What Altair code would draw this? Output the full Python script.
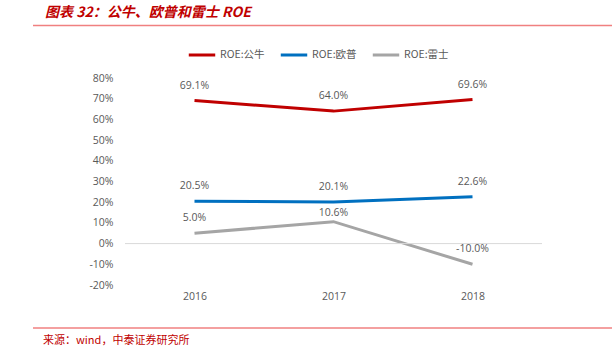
import altair as alt
import pandas as pd

years = ["2016", "2017", "2018"]
series_names = ["ROE:公牛", "ROE:欧普", "ROE:雷士"]
roe_gongniu = [0.691, 0.640, 0.696]
roe_oupu = [0.205, 0.201, 0.226]
roe_leishi = [0.050, 0.106, -0.100]
series_colors = ["#C00000", "#0070C0", "#A5A5A5"]
y_ticks = [-0.2, -0.1, 0.0, 0.1, 0.2, 0.3, 0.4, 0.5, 0.6, 0.7, 0.8]

title_text = "图表 32：公牛、欧普和雷士 ROE"
source_text = "来源：wind，中泰证券研究所"

rows = []
for name, vals in zip(series_names, [roe_gongniu, roe_oupu, roe_leishi]):
    for y, v in zip(years, vals):
        rows.append({"year": y, "series": name, "roe": v})
df = pd.DataFrame(rows)

W, H = 417, 207
PAD_L, PAD_T = 125, 78
LABEL_FONT = "Open Sans"
y_scale = alt.Scale(domain=[-0.2, 0.8], nice=False)
x_scale = alt.Scale(paddingInner=0, paddingOuter=0.5)

x_axis = alt.Axis(labelAngle=0, domain=False, ticks=False, labelPadding=6,
                  labelFontSize=10.5, labelColor="#595959", labelFont=LABEL_FONT)
y_axis = alt.Axis(values=y_ticks, format=".0%", domain=False, ticks=False, grid=False,
                  labelOverlap=False,
                  labelExpr="replace(datum.label, '\u2212', '-')",
                  labelPadding=12, labelFontSize=10.5, labelColor="#595959",
                  labelFont=LABEL_FONT)

x_enc = alt.X("year:N", sort=years, title=None, scale=x_scale, axis=x_axis)
y_enc = alt.Y("roe:Q", title=None, scale=y_scale, axis=y_axis)
color_enc = alt.Color("series:N",
                      scale=alt.Scale(domain=series_names, range=series_colors),
                      legend=alt.Legend(title=None, orient="none", legendX=62, legendY=-38,
                                        direction="horizontal", symbolType="stroke",
                                        symbolStrokeWidth=3, symbolSize=700,
                                        labelFontSize=10.5, labelColor="#595959",
                                        labelFont="Noto Sans CJK SC", columnPadding=9,
                                        labelOffset=3))

base = alt.Chart(df)

lines = base.mark_line(strokeWidth=3).encode(x=x_enc, y=y_enc, color=color_enc)

zero = base.transform_aggregate(z="min(roe)").transform_calculate(z="0").mark_rule(
    color="#D9D9D9", strokeWidth=1).encode(
    y=alt.Y("z:Q", title=None, scale=y_scale, axis=y_axis),
    x=alt.value(0), x2=alt.value(W))

special = "datum.series == 'ROE:雷士' && datum.year == '2017'"
label_base = base.transform_calculate(
    lbl="replace(format(datum.roe, '.1%'), '\u2212', '-')"
)
labels = label_base.transform_filter("!(" + special + ")").mark_text(
    baseline="middle", dy=-15, fontSize=10.5, color="#595959", font=LABEL_FONT
).encode(x=x_enc, y=y_enc, text=alt.Text("lbl:N"))
labels_special = label_base.transform_filter(special).mark_text(
    baseline="middle", dy=-9, fontSize=10.5, color="#595959", font=LABEL_FONT
).encode(x=x_enc, y=y_enc, text=alt.Text("lbl:N"))

title = alt.Chart(pd.DataFrame({"t": [title_text]})).mark_text(
    align="left", baseline="middle", fontSize=14, fontStyle="italic", fontWeight="bold",
    color="#C00000", font="Noto Sans CJK SC").encode(
    x=alt.value(45 - PAD_L), y=alt.value(13 - PAD_T), text="t:N")

top_rule = alt.Chart(pd.DataFrame({"r": [0]})).mark_rule(color="#F08080", strokeWidth=1.5).encode(
    x=alt.value(33 - PAD_L), x2=alt.value(612 - PAD_L), y=alt.value(25.5 - PAD_T))
bottom_rule = alt.Chart(pd.DataFrame({"r": [0]})).mark_rule(color="#F08080", strokeWidth=1.5).encode(
    x=alt.value(33 - PAD_L), x2=alt.value(612 - PAD_L), y=alt.value(328 - PAD_T))

source = alt.Chart(pd.DataFrame({"t": [source_text]})).mark_text(
    align="left", baseline="middle", fontSize=11, color="#C00000",
    font="Noto Sans CJK SC").encode(
    x=alt.value(43 - PAD_L), y=alt.value(341 - PAD_T), text="t:N")

chart = alt.layer(lines, zero, labels, labels_special, title, top_rule, bottom_rule, source).properties(
    width=W, height=H,
    autosize=alt.AutoSizeParams(type="none"),
    padding={"left": PAD_L, "top": PAD_T, "right": 612 - PAD_L - W, "bottom": 352 - PAD_T - H},
    background="white",
).configure_view(stroke=None)

chart.save("out.html", embed_options={"renderer": "svg", "actions": False})
